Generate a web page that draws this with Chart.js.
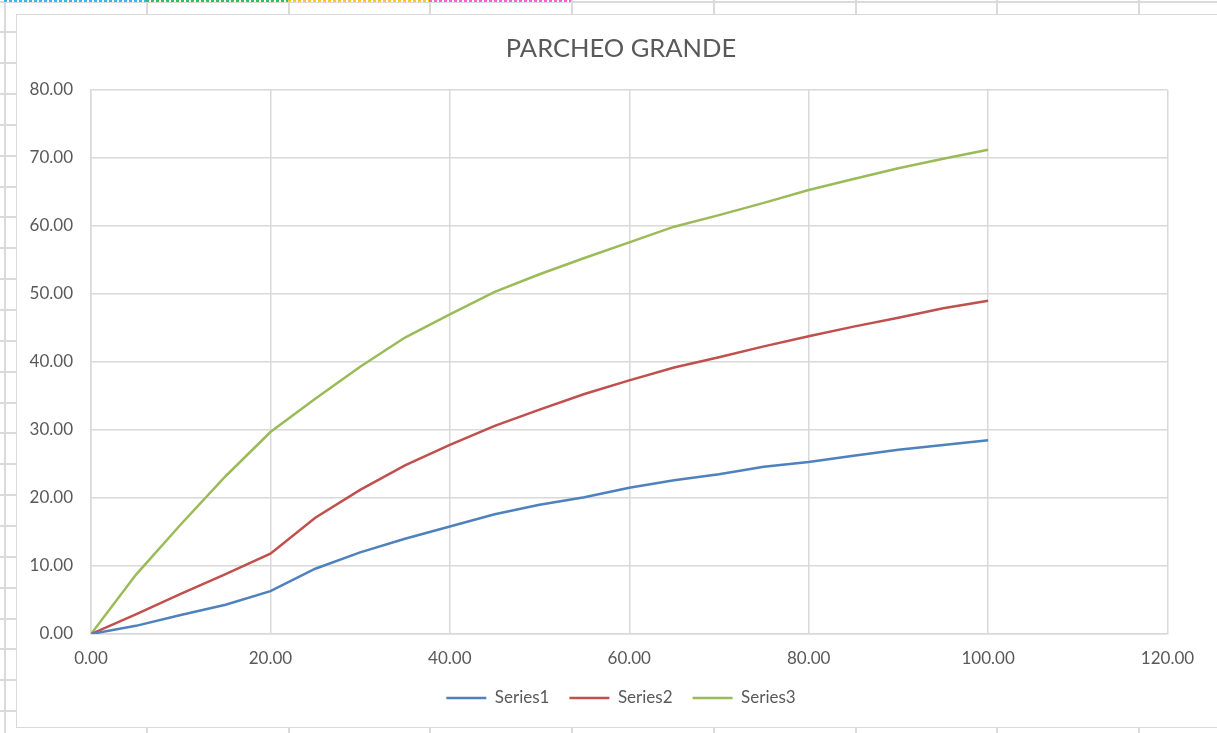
<!DOCTYPE html>
<html>
<head>
<meta charset="utf-8">
<script src="https://cdn.jsdelivr.net/npm/chart.js@4"></script>
<style>
  html, body { margin: 0; padding: 0; }
  body { width: 1217px; height: 733px; overflow: hidden; position: relative; background: #fff; }
  #sheet { position: absolute; left: 0; top: 0; width: 1217px; height: 733px; }
  .vl { position: absolute; top: 0; width: 2px; height: 733px; background: #dadada; }
  .hl { position: absolute; left: 0; height: 2px; width: 1217px; background: #dadada; }
  .ants { position: absolute; top: 0; height: 2px; }
  #box { position: absolute; left: 16px; top: 14px; width: 1260px; height: 712px; border: 1px solid #d9d9d9; background: #fff; }
  #chart { position: absolute; left: 0; top: 0; }
</style>
</head>
<body>
<div id="sheet"></div>
<div id="box"><canvas id="chart" width="1208" height="712"></canvas></div>
<script>
// values
const xValues = [0, 5, 10, 15, 20, 25, 30, 35, 40, 45, 50, 55, 60, 65, 70, 75, 80, 85, 90, 95, 100]
const series1 = [0, 1.2, 2.8, 4.3, 6.3, 9.6, 12.0, 14.0, 15.8, 17.6, 19.0, 20.1, 21.5, 22.6, 23.5, 24.6, 25.3, 26.2, 27.1, 27.8, 28.5]
const series2 = [0, 2.9, 5.9, 8.8, 11.8, 17.1, 21.2, 24.8, 27.8, 30.6, 33.0, 35.3, 37.3, 39.2, 40.7, 42.3, 43.8, 45.2, 46.5, 47.9, 49.0]
const series3 = [0, 8.7, 16.1, 23.2, 29.7, 34.6, 39.3, 43.6, 47.0, 50.3, 52.9, 55.3, 57.6, 59.9, 61.6, 63.4, 65.3, 66.9, 68.5, 69.9, 71.2]
const seriesNames = ['Series1', 'Series2', 'Series3']
const seriesColors = ['#4f81bd', '#c0504d', '#9bbb59']
const chartTitle = 'PARCHEO GRANDE'

// spreadsheet cells behind the chart
const sheet = document.getElementById('sheet')
for (let i = 0; i < 9; i++) {
    let d = document.createElement('div')
    d.className = 'vl'
    d.style.left = Math.round(4 + 141.75 * i) + 'px'
    sheet.appendChild(d)
}
for (let i = 0; i < 25; i++) {
    let d = document.createElement('div')
    d.className = 'hl'
    d.style.top = Math.round(0.5 + 30.85 * i) + 'px'
    sheet.appendChild(d)
}
const antColors = ['#38b6f0', '#2cbf5c', '#ffc82e', '#ff5fd0']
antColors.forEach((c, i) => {
    let d = document.createElement('div')
    d.className = 'ants'
    d.style.left = Math.round(4 + 141.75 * i) + 'px'
    d.style.width = '142px'
    d.style.background = 'repeating-linear-gradient(90deg,' + c + ' 0 3px, #fff 3px 5px)'
    sheet.appendChild(d)
})

const toPoints = ys => ys.map((y, i) => ({ x: xValues[i], y: y }))
const allSeries = [series1, series2, series3]

const font = 'Lato, "Open Sans", sans-serif'
const textColor = '#595959'
const gridColor = '#d9d9d9'

new Chart(document.getElementById('chart'), {
    type: 'scatter',
    data: {
        datasets: allSeries.map((s, i) => ({
            label: seriesNames[i],
            data: toPoints(s),
            showLine: true,
            borderColor: seriesColors[i],
            backgroundColor: seriesColors[i],
            borderWidth: 2.5,
            pointRadius: 0,
            pointHoverRadius: 0,
            tension: 0
        }))
    },
    options: {
        responsive: false,
        animation: false,
        layout: { padding: { left: 0, right: 0, top: 0, bottom: 10.5 } },
        plugins: {
            title: {
                display: true,
                text: chartTitle,
                color: textColor,
                font: { family: font, size: 25.5, weight: 'normal' },
                padding: { top: 18.7, bottom: 25.7 }
            },
            legend: {
                position: 'bottom',
                labels: {
                    usePointStyle: true,
                    pointStyle: 'line',
                    pointStyleWidth: 40,
                    color: textColor,
                    padding: 20,
                    font: { family: font, size: 17 }
                }
            },
            tooltip: { enabled: false }
        },
        scales: {
            x: {
                type: 'linear',
                min: 0,
                max: 120,
                ticks: {
                    stepSize: 20,
                    padding: 14.8,
                    color: textColor,
                    font: { family: font, size: 17 },
                    callback: v => v.toFixed(2)
                },
                grid: { color: gridColor, lineWidth: 1.5, drawTicks: false },
                border: { color: gridColor, width: 1.5 },
                afterFit: s => { s.height = 35.5 }
            },
            y: {
                type: 'linear',
                min: 0,
                max: 80,
                ticks: {
                    stepSize: 10,
                    padding: 18,
                    color: textColor,
                    font: { family: font, size: 17 },
                    callback: v => v.toFixed(2)
                },
                grid: { color: gridColor, lineWidth: 1.5, drawTicks: false },
                border: { color: gridColor, width: 1.5 },
                afterFit: s => { s.width = 74 }
            },
            // empty right side so the legend stays centred like the original
            spacer: {
                type: 'linear',
                position: 'right',
                display: true,
                grid: { display: false },
                ticks: { display: false },
                border: { display: false },
                afterFit: s => { s.width = 57.5 }
            }
        }
    }
})
</script>
</body>
</html>
